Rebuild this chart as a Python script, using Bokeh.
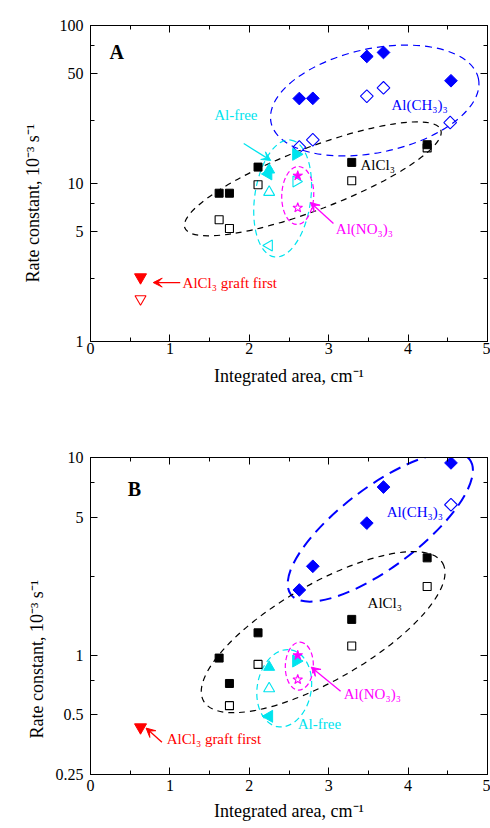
import numpy as np
from bokeh.plotting import figure
from bokeh.layouts import column
from bokeh.models import (LogAxis, LinearAxis, FixedTicker, Title, Arrow, VeeHead,
                          Range1d, CustomJSTickFormatter)
from bokeh.core.properties import value
from bokeh.embed import file_html
from bokeh.resources import INLINE

FONT = "Liberation Serif"
BLUE = "#0000ff"
BLACK = "#000000"
CYAN = "#00e4ee"
MAG = "#ff00ff"
RED = "#ff0000"

# ---------------- axes ----------------
x_ticks = [0, 1, 2, 3, 4, 5]
x_minor = [0.5, 1.5, 2.5, 3.5, 4.5]
a_y_ticks = [1, 5, 10, 50, 100]
a_y_minor = [2.5, 7.5, 25, 75]
b_y_ticks = [0.25, 0.5, 1, 5, 10]
b_y_minor = [0.75, 2.5, 7.5]
x_label = "Integrated area, cm\u207b\u00b9"
y_label = "Rate constant,  10\u207b\u00b3 s\u207b\u00b9"

# ---------------- panel A data ----------------
a_tma_fill_x = [2.63, 2.80, 3.48, 3.69, 4.54]
a_tma_fill_y = [34.5, 34.6, 63.7, 67.5, 44.7]
a_tma_open_x = [2.63, 2.80, 3.48, 3.69, 4.53]
a_tma_open_y = [17.0, 18.9, 35.7, 40.3, 24.3]
a_alcl_fill_x = [1.62, 1.75, 2.11, 3.29, 4.24]
a_alcl_fill_y = [8.68, 8.68, 12.7, 13.6, 17.6]
a_alcl_open_x = [1.62, 1.75, 2.11, 3.29, 4.24]
a_alcl_open_y = [5.89, 5.19, 9.81, 10.4, 16.8]
a_free_up_fill_x, a_free_up_fill_y = [2.25], [12.2]
a_free_left_fill_x, a_free_left_fill_y = [2.24], [11.5]
a_free_right_fill_x, a_free_right_fill_y = [2.59], [15.3]
a_free_up_open_x, a_free_up_open_y = [2.25], [8.81]
a_free_left_open_x, a_free_left_open_y = [2.25], [4.05]
a_free_right_open_x, a_free_right_open_y = [2.59], [10.3]
a_nit_fill_x, a_nit_fill_y = [2.61], [11.2]
a_nit_open_x, a_nit_open_y = [2.61], [7.02]
a_graft_fill_x, a_graft_fill_y = [0.63], [2.55]
a_graft_open_x, a_graft_open_y = [0.63], [1.86]

# ---------------- panel B data ----------------
b_tma_fill_x = [2.63, 2.80, 3.48, 3.69, 4.54]
b_tma_fill_y = [2.14, 2.82, 4.66, 7.09, 9.39]
b_tma_open_x = [4.54]
b_tma_open_y = [5.77]
b_alcl_fill_x = [1.62, 1.75, 2.11, 3.29, 4.24]
b_alcl_fill_y = [0.969, 0.721, 1.30, 1.52, 3.11]
b_alcl_open_x = [1.75, 2.11, 3.29, 4.24]
b_alcl_open_y = [0.557, 0.90, 1.115, 2.23]
b_free_up_fill_x, b_free_up_fill_y = [2.25], [0.872]
b_free_up_open_x, b_free_up_open_y = [2.25], [0.68]
b_free_left_fill_x, b_free_left_fill_y = [2.25], [0.492]
b_free_right_fill_x, b_free_right_fill_y = [2.59], [0.936]
b_nit_fill_x, b_nit_fill_y = [2.61], [1.0]
b_nit_open_x, b_nit_open_y = [2.61], [0.755]
b_graft_fill_x, b_graft_fill_y = [0.63], [0.433]

# ---------------- group outlines (center x, center y, width px, height px, angle deg) ----------------
a_ell = [  # color, dash, lw, cx, cy, w, h, ang
    (BLUE, "7 5", 1.2, 3.58, 33.5, 212, 104, 12),
    (BLACK, "6 5", 1.2, 2.80, 10.7, 274, 62, 21),
    (CYAN, "6 4", 1.2, 2.42, 8.04, 118, 56, 82),
    (MAG, "5 3", 1.2, 2.61, 8.4, 58, 32, 88),
]
b_ell = [
    (BLUE, "12 7", 2.0, 3.65, 4.45, 224, 80, 37),
    (BLACK, "6 5", 1.2, 2.93, 1.31, 276, 96, 30),
    (CYAN, "6 4", 1.2, 2.44, 0.682, 78, 54, 80),
    (MAG, "5 3", 1.2, 2.63, 0.883, 48, 28, 88),
]

# annotations: text, color, x, y, align
a_txt = [
    ("Al-free", CYAN, 1.83, 27.3, "center"),
    ("Al(CH\u2083)\u2083", BLUE, 3.79, 31.6, "left"),
    ("AlCl\u2083", BLACK, 3.40, 13.0, "left"),
    ("Al(NO\u2083)\u2083", MAG, 3.09, 5.19, "left"),
    ("AlCl\u2083 graft first", RED, 1.16, 2.36, "left"),
]
a_arrows = [  # color, x0, y0, x1, y1
    (CYAN, 1.93, 17.9, 2.27, 14.0),
    (MAG, 3.06, 5.58, 2.77, 7.59),
    (RED, 1.13, 2.36, 0.79, 2.36),
]
b_txt = [
    ("Al(CH\u2083)\u2083", BLUE, 3.73, 5.30, "left"),
    ("AlCl\u2083", BLACK, 3.49, 1.83, "left"),
    ("Al(NO\u2083)\u2083", MAG, 3.19, 0.636, "left"),
    ("Al-free", CYAN, 2.61, 0.450, "left"),
    ("AlCl\u2083 graft first", RED, 0.96, 0.380, "left"),
]
b_arrows = [
    (MAG, 3.15, 0.659, 2.78, 0.872),
    (RED, 0.90, 0.364, 0.70, 0.429),
]


def style_axis(ax, labels=True):
    ax.major_tick_in = 7
    ax.major_tick_out = 0
    ax.minor_tick_in = 4
    ax.minor_tick_out = 0
    ax.axis_line_color = "black"
    ax.major_tick_line_color = "black"
    ax.minor_tick_line_color = "black"
    ax.major_label_text_font = FONT
    ax.major_label_text_color = "black"
    ax.major_label_text_font_size = "16px"
    if not labels:
        ax.formatter = CustomJSTickFormatter(code="return '';")
        ax.major_label_standoff = 0


def make_panel(y_lo, y_hi, y_ticks, y_minor, frame_h, top, bottom,
               x_standoff, xl_standoff, t_standoff, t_offset):
    p = figure(frame_width=397, frame_height=frame_h, x_range=Range1d(0, 5),
               y_range=Range1d(y_lo, y_hi), y_axis_type="log",
               output_backend="svg", toolbar_location=None,
               min_border_left=90, min_border_right=3,
               min_border_top=top, min_border_bottom=bottom,
               background_fill_color="white", border_fill_color="white")
    p.grid.visible = False
    p.outline_line_color = "black"
    p.outline_line_alpha = 1.0
    fmt = CustomJSTickFormatter(code="return tick.toString();")
    xt = FixedTicker(ticks=x_ticks, minor_ticks=x_minor)
    yt = FixedTicker(ticks=y_ticks, minor_ticks=y_minor)
    p.xaxis.ticker = xt
    p.yaxis.ticker = yt
    p.xaxis.formatter = fmt
    p.yaxis.formatter = fmt
    for ax in p.xaxis:
        style_axis(ax)
        ax.major_label_standoff = x_standoff
        ax.axis_label = x_label
        ax.axis_label_text_font = FONT
        ax.axis_label_text_font_size = "18px"
        ax.axis_label_text_font_style = "normal"
        ax.axis_label_text_color = "black"
        ax.axis_label_standoff = xl_standoff
    for ax in p.yaxis:
        style_axis(ax)
        ax.major_label_standoff = 7
    top_ax = LinearAxis(ticker=xt)
    style_axis(top_ax, labels=False)
    p.add_layout(top_ax, "above")
    right_ax = LogAxis(ticker=yt)
    style_axis(right_ax, labels=False)
    p.add_layout(right_ax, "right")
    p.add_layout(Title(text=y_label, align="left", offset=t_offset, standoff=t_standoff,
                       text_font=FONT, text_font_size="18px", text_font_style="normal",
                       text_color="black"), "left")
    return p


def pts(p, x, y, marker, color, filled, size, angle=0.0):
    p.scatter(x, y, marker=marker, size=size, angle=angle,
              fill_color=color if filled else None, line_color=color,
              line_width=1.0 if filled else 1.1)


def outlines(p, ells):
    for c, dash, lw, cx, cy, w, h, ang in ells:
        p.ellipse(x=[cx], y=[cy], width=[w], height=[h], angle=[np.deg2rad(ang)],
                  width_units="screen", height_units="screen",
                  fill_color=None, line_color=c, line_dash=dash, line_width=lw)


def notes(p, txts, arrows):
    for t, c, x, y, al in txts:
        p.text(x=[x], y=[y], text=[t], text_color=c, text_font=value(FONT),
               text_font_size=value("15px"), text_align=al, text_baseline="middle")
    for c, x0, y0, x1, y1 in arrows:
        p.add_layout(Arrow(end=VeeHead(size=9, fill_color=c, line_color=c, line_width=1),
                           x_start=x0, y_start=y0, x_end=x1, y_end=y1,
                           line_color=c, line_width=1.3))


DIAM = np.pi / 4
LEFT = np.pi / 2
RIGHT = -np.pi / 2

# ---------------- Panel A ----------------
pA = make_panel(1, 100, a_y_ticks, a_y_minor, 316, 25, 69, 1, 9, 28, 59)
outlines(pA, a_ell)
pts(pA, a_tma_fill_x, a_tma_fill_y, "square", BLUE, True, 9, DIAM)
pts(pA, a_tma_open_x, a_tma_open_y, "square", BLUE, False, 9, DIAM)
pts(pA, a_alcl_fill_x, a_alcl_fill_y, "square", BLACK, True, 8)
pts(pA, a_alcl_open_x, a_alcl_open_y, "square", BLACK, False, 8)
pts(pA, a_free_up_fill_x, a_free_up_fill_y, "triangle", CYAN, True, 11)
pts(pA, a_free_left_fill_x, a_free_left_fill_y, "triangle", CYAN, True, 12, LEFT)
pts(pA, a_free_right_fill_x, a_free_right_fill_y, "triangle", CYAN, True, 12, RIGHT)
pts(pA, a_free_up_open_x, a_free_up_open_y, "triangle", CYAN, False, 11)
pts(pA, a_free_left_open_x, a_free_left_open_y, "triangle", CYAN, False, 11, LEFT)
pts(pA, a_free_right_open_x, a_free_right_open_y, "triangle", CYAN, False, 11, RIGHT)
pts(pA, a_nit_fill_x, a_nit_fill_y, "star", MAG, True, 10)
pts(pA, a_nit_open_x, a_nit_open_y, "star", MAG, False, 10)
pts(pA, a_graft_fill_x, a_graft_fill_y, "inverted_triangle", RED, True, 12)
pts(pA, a_graft_open_x, a_graft_open_y, "inverted_triangle", RED, False, 11)
notes(pA, a_txt, a_arrows)
pA.text(x=[0.24], y=[67.5], text=["A"], text_font=value(FONT), text_font_size=value("20px"),
        text_font_style="bold", text_baseline="middle", text_align="left", text_color="black")

# ---------------- Panel B ----------------
pB = make_panel(0.25, 10, b_y_ticks, b_y_minor, 317, 47, 52, 5, 7, 11, 36)
outlines(pB, b_ell)
pts(pB, b_tma_fill_x, b_tma_fill_y, "square", BLUE, True, 9, DIAM)
pts(pB, b_tma_open_x, b_tma_open_y, "square", BLUE, False, 9, DIAM)
pts(pB, b_alcl_fill_x, b_alcl_fill_y, "square", BLACK, True, 8)
pts(pB, b_alcl_open_x, b_alcl_open_y, "square", BLACK, False, 8)
pts(pB, b_free_up_fill_x, b_free_up_fill_y, "triangle", CYAN, True, 11)
pts(pB, b_free_up_open_x, b_free_up_open_y, "triangle", CYAN, False, 11)
pts(pB, b_free_left_fill_x, b_free_left_fill_y, "triangle", CYAN, True, 12, LEFT)
pts(pB, b_free_right_fill_x, b_free_right_fill_y, "triangle", CYAN, True, 12, RIGHT)
pts(pB, b_nit_fill_x, b_nit_fill_y, "star", MAG, True, 10)
pts(pB, b_nit_open_x, b_nit_open_y, "star", MAG, False, 10)
pts(pB, b_graft_fill_x, b_graft_fill_y, "inverted_triangle", RED, True, 12)
notes(pB, b_txt, b_arrows)
pB.text(x=[0.47], y=[6.96], text=["B"], text_font=value(FONT), text_font_size=value("20px"),
        text_font_style="bold", text_baseline="middle", text_align="left", text_color="black")

layout = column(pA, pB)
open("out.html", "w").write(file_html(layout, INLINE))
